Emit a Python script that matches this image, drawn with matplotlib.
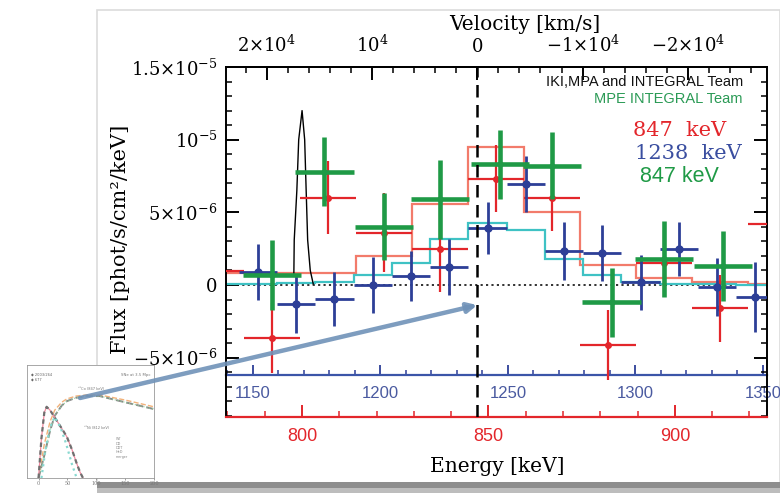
import numpy as np
import matplotlib.pyplot as plt
from matplotlib.patches import Rectangle, ConnectionPatch
from matplotlib.ticker import MultipleLocator

plt.rcParams['font.family'] = ['DejaVu Serif']
plt.rcParams['mathtext.fontset'] = 'dejavuserif'

E_RED = 847.0
E_BLUE = 1238.0
C_KMS = 3.0e5
UNIT = 1e-6

# 847 keV line, IKI/MPA analysis (15 keV bins)
red_E = [777, 792, 807, 822, 837, 852, 867, 882, 897, 912, 927]
red_F = [0.96, -3.65, 6.0, 3.6, 2.5, 7.3, 6.0, -4.1, 1.5, -1.6, 4.2]
red_err = [2.3, 2.4, 2.5, 2.7, 3.0, 2.3, 2.3, 2.4, 2.3, 2.3, 2.3]
red_model = [0.8, 0.8, 0.8, 2.0, 5.6, 9.5, 5.0, 1.4, 0.5, 0.2, 0.1]

# 1238 keV line (15 keV bins on its own energy scale)
blue_E = [1152, 1167, 1182, 1197, 1212, 1227, 1242, 1257, 1272, 1287,
          1302, 1317, 1332, 1347]
blue_F = [0.9, -1.3, -0.96, 0.0, 0.62, 1.24, 3.92, 6.95, 2.34, 2.2,
          0.2, 2.48, -0.14, -0.83]
blue_err = [1.9, 2.0, 1.85, 1.9, 1.75, 1.9, 1.8, 1.9, 2.0, 1.9,
            1.9, 1.85, 2.0, 2.4]
cyan_E = [1137] + blue_E
cyan_model = [0.1, 0.1, 0.15, 0.2, 0.7, 1.5, 3.2, 4.3, 3.8, 1.8, 0.7,
              0.2, 0.1, 0.05, 0.03]

# 847 keV line, MPE analysis
green_E = [792, 806, 822, 837, 853, 867, 883, 897, 913]
green_F = [0.7, 7.8, 4.0, 5.9, 8.3, 8.2, -1.2, 1.8, 1.3]
green_err = [2.4, 2.35, 2.3, 2.7, 2.35, 2.3, 2.35, 2.6, 2.4]

# narrow instrumental line
narrow_E = [797.8, 797.9, 798.6, 799.1, 800.0, 800.7, 801.1, 801.5, 802.2, 803.0]
narrow_F = [0.8, 3.1, 6.5, 10.0, 12.0, 10.0, 6.5, 3.1, 1.0, 0.07]

vel_ticks = [2e4, 1e4, 0, -1e4, -2e4]
vel_labels = [r'$2{\times}10^{4}$', r'$10^{4}$', '0',
              r'$-1{\times}10^{4}$', r'$-2{\times}10^{4}$']
flux_ticks = [1.5e-5, 1e-5, 5e-6, 0, -5e-6]
flux_labels = [r'$1.5{\times}10^{-5}$', r'$10^{-5}$', r'$5{\times}10^{-6}$',
               '0', r'$-5{\times}10^{-6}$']
red_ticks = [800, 850, 900]
blue_ticks = [1150, 1200, 1250, 1300, 1350]

# thumbnail of the light-curve figure
ins_days_co = [0, 10, 20, 28, 40, 49, 65, 84, 106, 150, 200]
ins_co_a = [0, 0.30, 0.50, 0.60, 0.67, 0.70, 0.725, 0.735, 0.735, 0.69, 0.63]
ins_co_b = [0, 0.20, 0.42, 0.55, 0.64, 0.68, 0.71, 0.725, 0.725, 0.67, 0.61]
ins_days_ni = [0, 5, 10, 14, 20, 30, 40, 49, 58, 66, 72, 77]
ins_ni_a = [0, 0.35, 0.58, 0.63, 0.60, 0.52, 0.44, 0.365, 0.25, 0.13, 0.05, 0]
ins_days_ni2 = [5, 12, 20, 28, 38, 48, 58, 66]
ins_ni_b = [0, 0.25, 0.45, 0.54, 0.45, 0.30, 0.12, 0]

RED = '#e3262b'
SALMON = '#f27b6b'
BLUE = '#2d3f97'
CYAN = '#3fc2c4'
GREEN = '#1f9a46'

W, H = 780, 493
fig = plt.figure(figsize=(W / 100, H / 100), dpi=100)
fig.patch.set_facecolor('white')

# card and its shadow
fig.add_artist(Rectangle((97 / W, 10 / H), 683 / W, 473 / H, transform=fig.transFigure,
                         facecolor='white', edgecolor='#dcdcdc', lw=1.2, zorder=-5))
fig.add_artist(Rectangle((97 / W, 5 / H), 683 / W, 6 / H, transform=fig.transFigure,
                         facecolor='#8e8e8e', edgecolor='none', zorder=-4))
fig.add_artist(Rectangle((97 / W, 0), 683 / W, 5 / H, transform=fig.transFigure,
                         facecolor='#bdbdbd', edgecolor='none', zorder=-4))

ax = fig.add_axes([226 / W, 76 / H, 541 / W, 350 / H])
ax.set_facecolor('white')

def red_to_blue(e):
    return np.asarray(e) * E_BLUE / E_RED

def blue_to_red(e):
    return np.asarray(e) * E_RED / E_BLUE

def e_to_v(e):
    return C_KMS * (1 - np.asarray(e) / E_RED)

def v_to_e(v):
    return E_RED * (1 - np.asarray(v) / C_KMS)

# models
red_edges = np.append(np.array(red_E) - 7.5, red_E[-1] + 7.5)
ax.stairs(np.array(red_model) * UNIT, red_edges, color=SALMON, lw=1.6, zorder=2)
cyan_edges = blue_to_red(np.append(np.array(cyan_E) - 7.5, cyan_E[-1] + 7.5))
ax.stairs(np.array(cyan_model) * UNIT, cyan_edges, color=CYAN, lw=1.6, zorder=2)
ax.plot(narrow_E, np.array(narrow_F) * UNIT, color='black', lw=1.0, zorder=2)

ax.axhline(0, color='#222222', ls=(0, (1.2, 1.8)), lw=1.3, zorder=1.5)
ax.axvline(E_RED, color='black', ls=(0, (5, 3)), lw=1.8, zorder=6)

# data
ax.errorbar(red_E, np.array(red_F) * UNIT, xerr=7.5, yerr=np.array(red_err) * UNIT,
            fmt='o', ms=4, color=RED, elinewidth=1.6, capsize=0, zorder=3)
ax.errorbar(blue_to_red(blue_E), np.array(blue_F) * UNIT, xerr=blue_to_red(7.5),
            yerr=np.array(blue_err) * UNIT, fmt='o', ms=5, color=BLUE,
            elinewidth=2.0, capsize=0, zorder=4)
ax.errorbar(green_E, np.array(green_F) * UNIT, xerr=7.8, yerr=np.array(green_err) * UNIT,
            fmt='o', ms=3.5, color=GREEN, elinewidth=3.3, capsize=0, zorder=5)

ax.set_xlim(779.6, 924.7)
ax.set_ylim(-9.08e-6, 1.5e-5)

for side in ['left', 'right', 'top']:
    ax.spines[side].set_color('black')
    ax.spines[side].set_linewidth(1.4)
ax.spines['bottom'].set_color(RED)
ax.spines['bottom'].set_linewidth(1.6)

ax.set_yticks(flux_ticks, labels=flux_labels)
ax.yaxis.set_minor_locator(MultipleLocator(1e-6))
ax.tick_params(axis='y', which='both', direction='in', right=True, labelsize=13, pad=6)
ax.tick_params(axis='y', which='major', length=9.5, width=1.4)
ax.tick_params(axis='y', which='minor', length=4.5, width=1.1)

ax.set_xticks(red_ticks)
ax.xaxis.set_minor_locator(MultipleLocator(10))
ax.tick_params(axis='x', which='both', direction='in', top=False, colors=RED,
               labelsize=13, pad=8)
ax.tick_params(axis='x', which='major', length=8.5, width=1.4)
ax.tick_params(axis='x', which='minor', length=4, width=1.1)
for lab in ax.get_xticklabels():
    lab.set_fontfamily('Liberation Sans')

# 1238 keV energy scale
bax = ax.secondary_xaxis(0.12, functions=(red_to_blue, blue_to_red))
bax.set_xticks(blue_ticks)
bax.xaxis.set_minor_locator(MultipleLocator(10))
bax.tick_params(axis='x', which='both', direction='in', colors=BLUE, labelsize=12, pad=8)
bax.tick_params(axis='x', which='major', length=7, width=1.3)
bax.tick_params(axis='x', which='minor', length=3.5, width=1.1)
for sp in bax.spines.values():
    sp.set_color('#3b55a8')
    sp.set_linewidth(1.6)
for lab in bax.get_xticklabels():
    lab.set_fontfamily('Liberation Sans')
    lab.set_color('#4a5aa0')

# velocity scale
vax = ax.secondary_xaxis('top', functions=(e_to_v, v_to_e))
vax.set_xticks(vel_ticks, labels=vel_labels)
vax.xaxis.set_minor_locator(MultipleLocator(2000))
vax.tick_params(axis='x', which='both', direction='in', labelsize=13, pad=8)
vax.tick_params(axis='x', which='major', length=9.5, width=1.4)
vax.tick_params(axis='x', which='minor', length=4.5, width=1.1)
vax.spines['top'].set_linewidth(1.4)

# annotations
ax.text(0.9556, 0.957, 'IKI,MPA and INTEGRAL Team', transform=ax.transAxes,
        ha='right', va='center', fontsize=10.5, family='Liberation Sans', color='#111111')
ax.text(0.9556, 0.909, 'MPE INTEGRAL Team', transform=ax.transAxes,
        ha='right', va='center', fontsize=10.5, family='Liberation Sans', color='#2a9a55')
ax.text(0.752, 0.82, '847  keV', transform=ax.transAxes, ha='left', va='center',
        fontsize=15, color=RED)
ax.text(0.756, 0.754, '1238  keV', transform=ax.transAxes, ha='left', va='center',
        fontsize=15, color='#3a4ea0')
ax.text(0.765, 0.686, '847 keV', transform=ax.transAxes, ha='left', va='center',
        fontsize=15.5, family='Liberation Sans', color=GREEN)

fig.text(525 / W, 1 - 25 / H, 'Velocity [km/s]', ha='center', va='center', fontsize=14.5)
fig.text(497 / W, 1 - 467 / H, 'Energy [keV]', ha='center', va='center', fontsize=14.5)
fig.text(121 / W, 1 - 239 / H, 'Flux [phot/s/cm²/keV]', ha='center', va='center',
         rotation=90, fontsize=15)

# thumbnail
iax = fig.add_axes([27 / W, 15 / H, 127 / W, 113 / H], zorder=5)
iax.set_facecolor('white')
iax.plot(ins_days_co, ins_co_a, color='#f2b27a', lw=1.0, ls='--')
iax.plot(ins_days_co, ins_co_b, color='#888888', lw=1.4, ls='--')
iax.plot(ins_days_co, ins_co_b, color='#8fcf9a', lw=0.8, ls=':')
iax.plot(ins_days_ni, ins_ni_a, color='#f08aa0', lw=0.9)
iax.plot(ins_days_ni, ins_ni_a, color='#707070', lw=1.6, ls=(0, (2, 1.5)))
iax.plot(ins_days_ni2, ins_ni_b, color='#88d8d0', lw=1.6, ls=':')
iax.set_xlim(-20, 200)
iax.set_ylim(0, 1)
iax.set_xticks([0, 50, 100, 150, 200])
iax.set_yticks([])
iax.tick_params(labelsize=3.5, length=1.5, width=0.5, colors='#777777', pad=1)
for sp in iax.spines.values():
    sp.set_color('#999999')
    sp.set_linewidth(0.6)
iax.text(0.03, 0.93, '◆ 2003/264\n◆ 677', transform=iax.transAxes, fontsize=2.6,
         va='top', color='#666666', family='DejaVu Sans')
iax.text(0.97, 0.93, 'SNe at 3.5 Mpc', transform=iax.transAxes, fontsize=2.8,
         va='top', ha='right', color='#777777', family='DejaVu Sans')
iax.text(0.40, 0.78, '⁵⁶Co (847 keV)', transform=iax.transAxes, fontsize=2.6,
         color='#777777', family='DejaVu Sans')
iax.text(0.45, 0.43, '⁵⁶Ni (812 keV)', transform=iax.transAxes, fontsize=2.6,
         color='#777777', family='DejaVu Sans')
iax.text(0.70, 0.36, 'W7\nDD\nDDT\nHeD\nmerger', transform=iax.transAxes,
         fontsize=2.4, va='top', color='#888888', family='DejaVu Sans', linespacing=1.1)

# arrow from the thumbnail to the 847 keV line
arrow = ConnectionPatch(xyA=(80 / W, 1 - 398 / H), coordsA='figure fraction',
                        xyB=(E_RED, -1.38e-6), coordsB=ax.transData,
                        arrowstyle='-|>', mutation_scale=14, lw=3.2,
                        color='#7092b8', alpha=0.9, zorder=10)
fig.add_artist(arrow)

fig.savefig('out.png', dpi=100)
